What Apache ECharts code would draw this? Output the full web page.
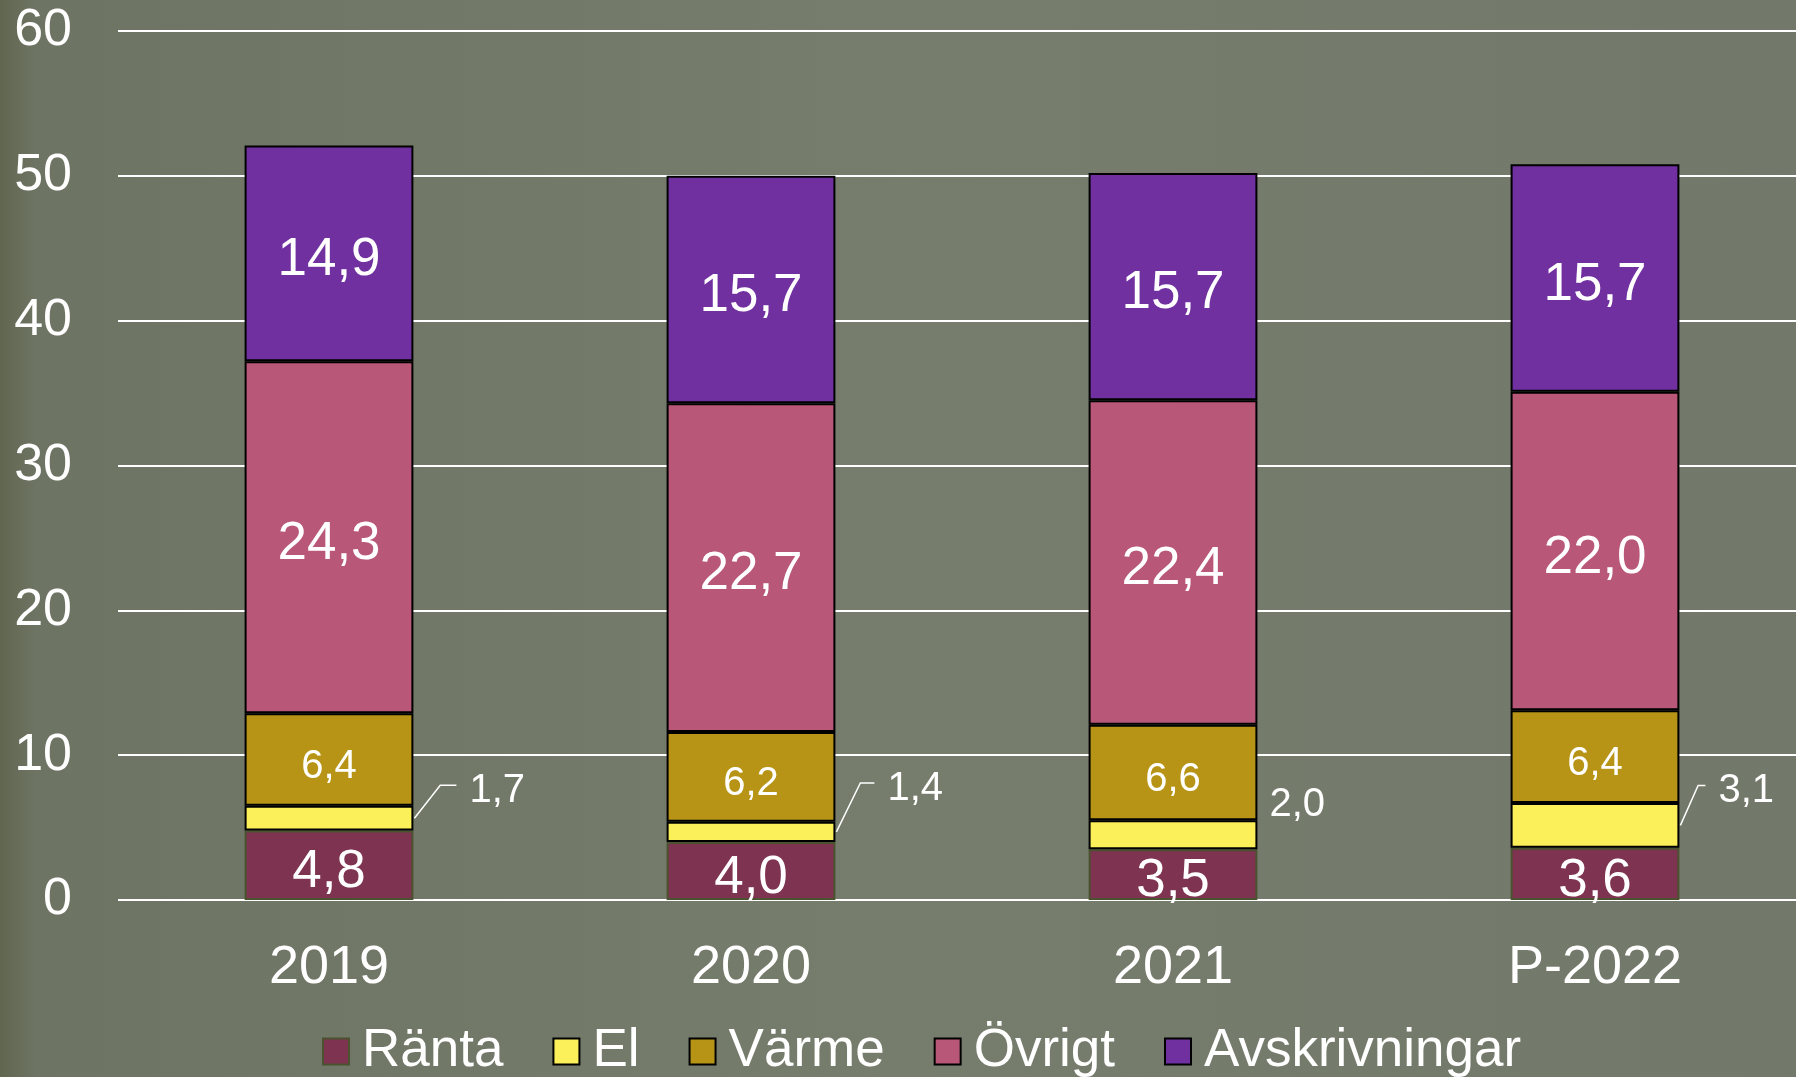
<!DOCTYPE html>
<html>
<head>
<meta charset="utf-8">
<script src="https://cdn.jsdelivr.net/npm/echarts@6/dist/echarts.min.js"></script>
<style>
html,body{margin:0;padding:0;background:#767c6c;}
#chart{width:1796px;height:1077px;}
</style>
</head>
<body>
<div id="chart"></div>
<script>
const categories = ['2019', '2020', '2021', 'P-2022'];
const yTicks = [0, 10, 20, 30, 40, 50, 60];
const ranta = [4.8, 4.0, 3.5, 3.6];
const el = [1.7, 1.4, 2.0, 3.1];
const varme = [6.4, 6.2, 6.6, 6.4];
const ovrigt = [24.3, 22.7, 22.4, 22.0];
const avskrivningar = [14.9, 15.7, 15.7, 15.7];

const FONT = '"Liberation Sans", Arial, sans-serif';
const fmt = v => v.toFixed(1).replace('.', ',');

// El label placement (offset from bar right edge, vertical shift) and whether a leader line is drawn
const elLabelGap = [56, 52, 12, 39];
const elLabelDy = [-27, -43, -30, -34];
const elLeader = [true, true, false, true];

function seg(name, data, color, border, fontSize) {
  return {
    name: name,
    type: 'bar',
    stack: 'total',
    barWidth: '40%',
    data: data,
    itemStyle: { color: color, borderColor: border, borderWidth: 2 },
    label: {
      show: fontSize > 0,
      position: 'inside',
      offset: [0, 7],
      color: '#ffffff',
      fontFamily: FONT,
      fontSize: fontSize || 12,
      formatter: p => fmt(p.value)
    },
    emphasis: { disabled: true },
    animation: false
  };
}

const chart = echarts.init(document.getElementById('chart'), null, { renderer: 'canvas' });

const option = {
  backgroundColor: {
    type: 'linear', x: 0, y: 0, x2: 1, y2: 0,
    colorStops: [
      { offset: 0, color: '#60664f' },
      { offset: 0.02, color: '#6e7463' },
      { offset: 0.5, color: '#777d6d' },
      { offset: 1, color: '#73796a' }
    ]
  },
  animation: false,
  grid: { left: 118, width: 1688, top: 31, bottom: 177, containLabel: false, outerBoundsMode: 'none' },
  legend: {
    data: ['Ränta', 'El', 'Värme', 'Övrigt', 'Avskrivningar'],
    left: 317,
    top: 1020,
    itemWidth: 26,
    itemHeight: 26,
    itemGap: 49,
    icon: 'rect',
    textStyle: { color: '#ffffff', fontSize: 53, fontFamily: FONT, padding: [0, 0, 0, 8] },
    selectedMode: false
  },
  xAxis: {
    type: 'category',
    data: categories,
    axisLine: { show: false },
    axisTick: { show: false },
    axisLabel: { color: '#ffffff', fontSize: 54, fontFamily: FONT, margin: 41 }
  },
  yAxis: {
    type: 'value',
    min: yTicks[0],
    max: yTicks[yTicks.length - 1],
    interval: yTicks[1] - yTicks[0],
    axisLine: { show: false },
    axisTick: { show: false },
    axisLabel: { color: '#ffffff', fontSize: 52, fontFamily: FONT, margin: 46, padding: [14, 0, 0, 0] },
    splitLine: { lineStyle: { color: '#ffffff', width: 2 } }
  },
  series: [
    seg('Ränta', ranta, '#7e3350', '#4a5230', 53),
    seg('El', el, '#fbef5a', '#000000', 0),
    seg('Värme', varme, '#b79415', '#000000', 40),
    seg('Övrigt', ovrigt, '#b85777', '#000000', 53),
    seg('Avskrivningar', avskrivningar, '#7030a0', '#000000', 53),
    {
      type: 'custom',
      name: 'El-etiketter',
      data: categories.map((c, i) => [i, ranta[i], el[i]]),
      encode: { x: 0, y: 1 },
      z: 10,
      silent: true,
      animation: false,
      renderItem: function (params, api) {
        const i = api.value(0);
        const base = api.value(1);
        const v = api.value(2);
        const c = api.coord([i, base + v / 2]);
        const band = api.size([1, 0])[0];
        const right = c[0] + band * 0.2;
        const gap = elLabelGap[i];
        const ly = c[1] + elLabelDy[i];
        const lx = right + gap;
        const children = [];
        if (elLeader[i]) {
          children.push({
            type: 'polyline',
            shape: { points: [[right + 1, c[1]], [right + gap * 0.48, ly - 6], [lx - 13, ly - 6]] },
            style: { stroke: '#ffffff', lineWidth: 1.5, fill: null }
          });
        }
        children.push({
          type: 'text',
          style: {
            x: lx, y: ly, text: fmt(v),
            fill: '#ffffff', fontSize: 40, fontFamily: FONT,
            align: 'left', verticalAlign: 'middle'
          }
        });
        return { type: 'group', children: children };
      }
    }
  ]
};
chart.setOption(option);
</script>
</body>
</html>
